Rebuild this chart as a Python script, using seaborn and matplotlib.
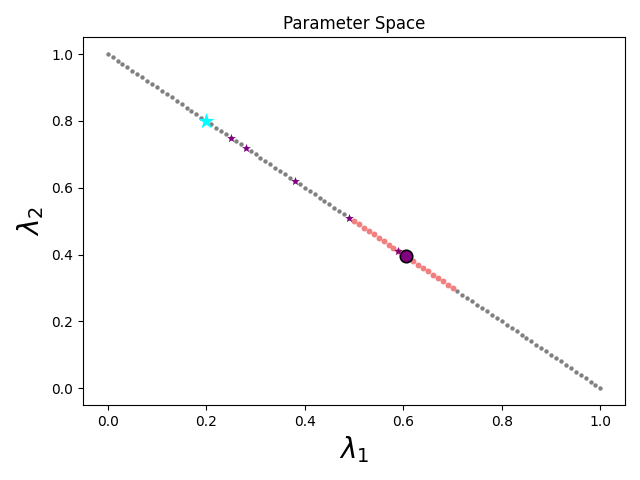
import matplotlib
matplotlib.use("Agg")
import matplotlib.pyplot as plt
import seaborn as sns

# candidate grid on the simplex lambda1 + lambda2 = 1 (step 0.01)
grid_l1 = [0.00, 0.01, 0.02, 0.03, 0.04, 0.05, 0.06, 0.07, 0.08, 0.09,
           0.10, 0.11, 0.12, 0.13, 0.14, 0.15, 0.16, 0.17, 0.18, 0.19,
           0.20, 0.21, 0.22, 0.23, 0.24, 0.25, 0.26, 0.27, 0.28, 0.29,
           0.30, 0.31, 0.32, 0.33, 0.34, 0.35, 0.36, 0.37, 0.38, 0.39,
           0.40, 0.41, 0.42, 0.43, 0.44, 0.45, 0.46, 0.47, 0.48, 0.49,
           0.50, 0.51, 0.52, 0.53, 0.54, 0.55, 0.56, 0.57, 0.58, 0.59,
           0.60, 0.61, 0.62, 0.63, 0.64, 0.65, 0.66, 0.67, 0.68, 0.69,
           0.70, 0.71, 0.72, 0.73, 0.74, 0.75, 0.76, 0.77, 0.78, 0.79,
           0.80, 0.81, 0.82, 0.83, 0.84, 0.85, 0.86, 0.87, 0.88, 0.89,
           0.90, 0.91, 0.92, 0.93, 0.94, 0.95, 0.96, 0.97, 0.98, 0.99,
           1.00]
grid_l2 = [round(1 - v, 2) for v in grid_l1]

# feasible region (highlighted)
region_l1 = [0.50, 0.51, 0.52, 0.53, 0.54, 0.55, 0.56, 0.57, 0.58, 0.59, 0.60,
             0.61, 0.62, 0.63, 0.64, 0.65, 0.66, 0.67, 0.68, 0.69, 0.70]
region_l2 = [round(1 - v, 2) for v in region_l1]

# evaluated points
eval_l1 = [0.25, 0.28, 0.38, 0.49, 0.59]
eval_l2 = [0.75, 0.72, 0.62, 0.51, 0.41]

start_l1, start_l2 = [0.20], [0.80]
best_l1, best_l2 = [0.605], [0.395]

fig, ax = plt.subplots(figsize=(6.4, 4.8), dpi=100)

sns.scatterplot(x=grid_l1, y=grid_l2, color="gray", s=10, linewidth=0, ax=ax)
sns.scatterplot(x=region_l1, y=region_l2, color="lightcoral", s=18, linewidth=0, ax=ax)
sns.scatterplot(x=best_l1, y=best_l2, color="purple", edgecolor="black", s=80,
                linewidth=1.2, ax=ax)
sns.scatterplot(x=eval_l1, y=eval_l2, color="purple", marker="*", s=45, linewidth=0, ax=ax)
sns.scatterplot(x=start_l1, y=start_l2, color="cyan", marker="*", s=150, linewidth=0, ax=ax)

ax.set_title("Parameter Space")
ax.set_xlabel(r"$\lambda_1$", fontsize=20)
ax.set_ylabel(r"$\lambda_2$", fontsize=20)

plt.tight_layout()
plt.savefig("out.png", dpi=100)
